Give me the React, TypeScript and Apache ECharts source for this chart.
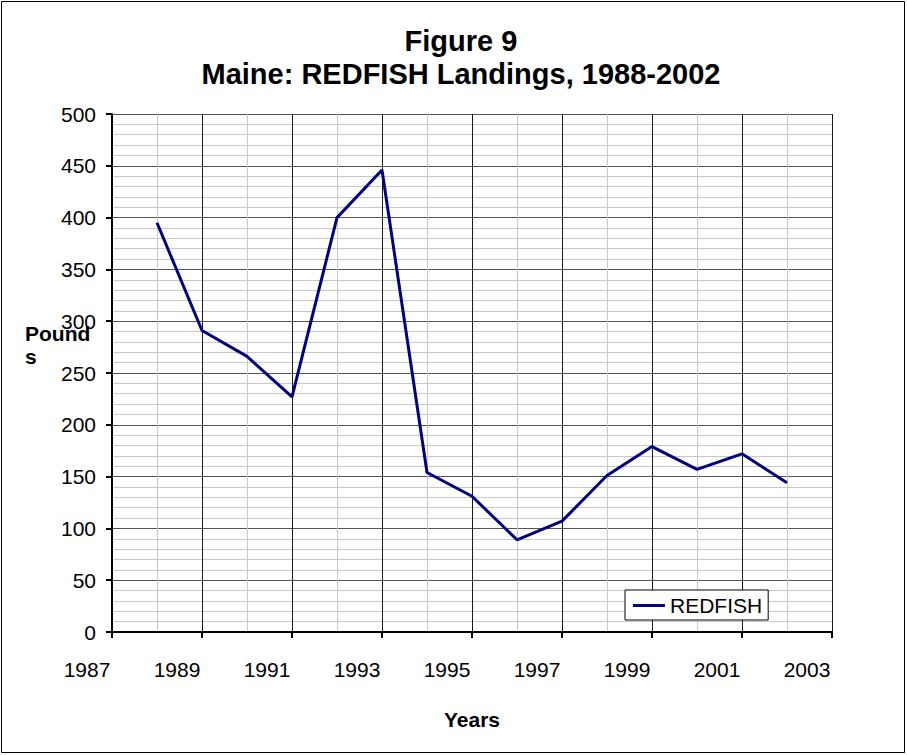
import React, { useEffect, useRef } from "react";
import * as echarts from "echarts";

const BASE_YEAR = 1987;
const years = [1988, 1989, 1990, 1991, 1992, 1993, 1994, 1995, 1996, 1997, 1998, 1999, 2000, 2001, 2002];
const redfish = [395, 291, 266, 227, 400, 446, 154, 131, 89, 107, 151, 179, 157, 172, 144];
const titleLines = ["Figure 9", "Maine: REDFISH Landings, 1988-2002"];
const seriesName = "REDFISH";
const xName = "Years";
const yName = "Pound\ns";

const FONT = "'Liberation Sans', Arial, Helvetica, sans-serif";

export default function App() {
  const ref = useRef<HTMLDivElement>(null);
  useEffect(() => {
    if (!ref.current) return;
    const chart = echarts.init(ref.current, null, { renderer: "svg" });
    chart.setOption({
      animation: false,
      backgroundColor: "#fff",
      graphic: [
        {
          type: "rect",
          shape: { x: 1.5, y: 1.5, width: 903, height: 751 },
          style: { fill: "none", stroke: "#000", lineWidth: 1 },
          z: -1,
        },
        {
          type: "text",
          x: 461,
          y: 24,
          style: {
            text: titleLines.join("\n"),
            fill: "#000",
            font: `bold 29px ${FONT}`,
            textAlign: "center",
            lineHeight: 33,
          },
        },
        {
          type: "text",
          x: 25,
          y: 322,
          style: {
            text: yName,
            fill: "#000",
            font: `bold 21px ${FONT}`,
            textAlign: "left",
            lineHeight: 23,
          },
        },
        {
          type: "text",
          x: 472,
          y: 709,
          style: {
            text: xName,
            fill: "#000",
            font: `bold 21px ${FONT}`,
            textAlign: "center",
          },
        },
      ],
      legend: {
        left: 625,
        top: 590,
        orient: "horizontal",
        backgroundColor: "#fff",
        borderColor: "#000",
        borderWidth: 1,
        padding: [5, 6, 4, 8],
        icon: "path://M0 0H32V3H0Z",
        itemWidth: 32,
        itemHeight: 3,
        itemGap: 6,
        textStyle: { fontSize: 21, fontFamily: FONT, color: "#000" },
        data: [seriesName],
      },
      grid: { left: 112, right: 75, top: 114, bottom: 123, containLabel: false },
      xAxis: {
        type: "value",
        min: 0,
        max: 16,
        interval: 2,
        axisLine: { show: true, onZero: false, lineStyle: { color: "#000", width: 2 } },
        axisTick: { show: true, length: 6, lineStyle: { color: "#000", width: 2 } },
        axisLabel: {
          formatter: (v: number) => String(v + BASE_YEAR),
          fontSize: 21,
          fontFamily: FONT,
          color: "#000",
          margin: 27,
          padding: [0, 50, 0, 0],
        },
        splitLine: { show: true, lineStyle: { color: "#1a1a1a", width: 1 } },
        minorTick: { show: false, splitNumber: 2 },
        minorSplitLine: { show: true, lineStyle: { color: "#c8c8c8", width: 1 } },
      },
      yAxis: {
        type: "value",
        min: 0,
        max: 500,
        interval: 50,
        axisLine: { show: true, onZero: false, lineStyle: { color: "#000", width: 2 } },
        axisTick: { show: true, length: 6, lineStyle: { color: "#000", width: 2 } },
        axisLabel: {
          fontSize: 21,
          fontFamily: FONT,
          color: "#000",
          margin: 16,
        },
        splitLine: { show: true, lineStyle: { color: "#555", width: 1 } },
        minorTick: { show: false, splitNumber: 5 },
        minorSplitLine: { show: true, lineStyle: { color: "#c8c8c8", width: 1 } },
      },
      series: [
        {
          name: seriesName,
          type: "line",
          data: years.map((y, i) => [y - BASE_YEAR, redfish[i]]),
          symbol: "none",
          showSymbol: false,
          lineStyle: { color: "#000080", width: 3 },
          itemStyle: { color: "#000080" },
          z: 5,
        },
      ],
    });
    return () => chart.dispose();
  }, []);
  return (
    <div
      ref={ref}
      style={{ position: "absolute", left: 0, top: 0, width: 907, height: 755 }}
    />
  );
}
